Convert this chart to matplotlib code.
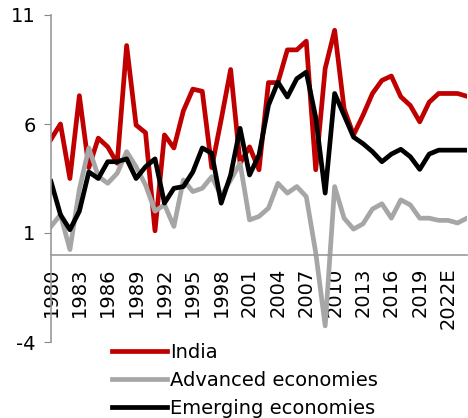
import numpy as np
import matplotlib
matplotlib.use('Agg')
import matplotlib.pyplot as plt

years = list(range(1980, 2025))

india = [5.3, 6.0, 3.5, 7.3, 4.0, 5.35, 4.95, 4.2, 9.6, 5.95,
         5.6, 1.1, 5.5, 4.9, 6.6, 7.6, 7.5, 4.0, 6.2, 8.5,
         4.2, 4.95, 3.9, 7.9, 7.9, 9.4, 9.4, 9.8, 3.9, 8.55,
         10.3, 6.7, 5.5, 6.4, 7.4, 8.0, 8.2, 7.25, 6.85, 6.1,
         7.0, 7.4, 7.4, 7.4, 7.27]

advanced = [1.3, 1.84, 0.24, 3.0, 4.9, 3.6, 3.28, 3.74, 4.73, 4.04,
            3.2, 2.0, 2.3, 1.3, 3.43, 2.9, 3.05, 3.58, 2.7, 3.43,
            4.2, 1.6, 1.76, 2.14, 3.28, 2.83, 3.13, 2.67, 0.1, -3.26,
            3.13, 1.68, 1.18, 1.42, 2.1, 2.34, 1.68, 2.52, 2.29, 1.68,
            1.68, 1.58, 1.58, 1.46, 1.68]

emerging = [3.36, 1.84, 1.15, 2.0, 3.8, 3.5, 4.27, 4.27, 4.4, 3.5,
            4.04, 4.4, 2.37, 3.05, 3.13, 3.8, 4.9, 4.66, 2.37, 3.66,
            5.8, 3.66, 4.58, 6.86, 7.92, 7.24, 8.08, 8.38, 6.3, 2.83,
            7.4, 6.4, 5.4, 5.1, 4.73, 4.27, 4.62, 4.84, 4.5, 3.92,
            4.62, 4.8, 4.8, 4.8, 4.8]

tick_years = list(range(1980, 2023, 3))
tick_labels = [str(y) for y in tick_years]
tick_labels[-1] = '2022E'

plt.rcParams['font.family'] = 'DejaVu Sans'
plt.rcParams['axes.unicode_minus'] = False
fig = plt.figure(figsize=(4.68, 4.18), dpi=100)
ax = fig.add_axes([51/468, 1-342/418, 416/468, (342-15)/418])

ax.plot(years, india, color='#C00000', lw=3.4, label='India')
ax.plot(years, advanced, color='#A6A6A6', lw=3.4, label='Advanced economies')
ax.plot(years, emerging, color='#000000', lw=3.4, label='Emerging economies')

for s in ['top', 'right']:
    ax.spines[s].set_visible(False)
ax.spines['bottom'].set_position(('data', 0))
ax.spines['bottom'].set_color('#999999')
ax.spines['left'].set_color('#999999')
ax.spines['bottom'].set_linewidth(1.2)
ax.spines['left'].set_linewidth(1.2)

ax.set_xlim(1980, 2024)
ax.set_ylim(-4, 11)
ax.set_yticks([-4, 1, 6, 11])
ax.set_xticks(tick_years)
ax.set_xticklabels(tick_labels, rotation=90, fontsize=14)
ax.tick_params(axis='y', labelsize=14, length=5, color='#888888', pad=6)
ax.tick_params(axis='x', length=0, pad=9)

fig.legend(loc='upper left', bbox_to_anchor=(112/468, 1-343/418), frameon=False,
           fontsize=14, handlelength=2.85, handletextpad=0.15, labelspacing=0.45,
           borderaxespad=0, borderpad=0)

fig.savefig('out.png', dpi=100)
